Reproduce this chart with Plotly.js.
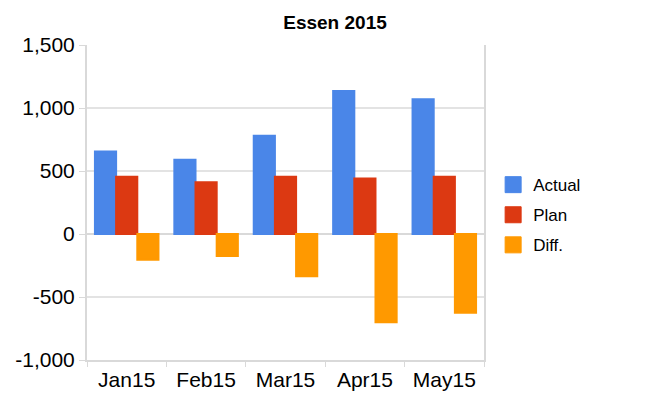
<!DOCTYPE html>
<html>
<head>
<meta charset="utf-8">
<script src="https://cdn.plot.ly/plotly-3.0.1.min.js"></script>
<style>html,body{margin:0;padding:0;background:#fff;}#chart{width:670px;height:400px;}</style>
</head>
<body>
<div id="chart"></div>
<script>
var categories = ["Jan15", "Feb15", "Mar15", "Apr15", "May15"];
var actual = [655, 590, 780, 1135, 1070];
var plan = [455, 410, 455, 440, 455];
var diff = [-205, -175, -335, -700, -625];
var seriesNames = ["Actual", "Plan", "Diff."];
var yTickVals = [-1000, -500, 0, 500, 1000, 1500];
var yTickText = ["-1,000", "-500", "0", "500", "1,000", "1,500"];

var colors = ["#4a86e8", "#dc3912", "#ff9900"];
var seriesVals = [actual, plan, diff];

var data = [];
seriesNames.forEach(function (name, i) {
  data.push({
    type: "bar", name: name, x: categories, y: seriesVals[i], legendgroup: name,
    showlegend: false,
    marker: {color: colors[i], line: {width: 2, color: colors[i]}},
    hoverinfo: "skip"
  });
});
// legend swatches (larger squares, as in the reference)
seriesNames.forEach(function (name, i) {
  data.push({
    type: "scatter", mode: "markers", name: name, legendgroup: name,
    x: [null], y: [null], showlegend: true,
    marker: {symbol: "square", size: 16, color: colors[i], line: {width: 1, color: colors[i]}},
    hoverinfo: "skip"
  });
});

var layout = {
  width: 670, height: 400,
  margin: {l: 87, r: 186, t: 45, b: 40},
  paper_bgcolor: "#fff", plot_bgcolor: "#fff",
  font: {family: "Liberation Sans, Arial, sans-serif", color: "#000"},
  title: {text: "<b>Essen 2015</b>", font: {size: 19, color: "#000"}, xref: "container", x: 0.5, xanchor: "center", yref: "container", y: 0.945, yanchor: "middle"},
  barmode: "group", bargap: 0.2, bargroupgap: 0,
  xaxis: {
    type: "category", tickson: "boundaries", ticks: "outside", ticklen: 5, tickcolor: "#d9d9d9", tickwidth: 1,
    showline: true, linecolor: "#d9d9d9", linewidth: 2, showgrid: false,
    tickfont: {size: 21, color: "#000"}, fixedrange: true
  },
  yaxis: {
    range: [-1000, 1500], tickvals: yTickVals, ticktext: yTickText,
    ticks: "outside", ticklen: 6, tickcolor: "#d9d9d9", tickwidth: 1,
    showline: true, linecolor: "#d9d9d9", linewidth: 2, mirror: true,
    showgrid: true, gridcolor: "#e3e3e3", gridwidth: 2,
    zeroline: true, zerolinecolor: "#d9d9d9", zerolinewidth: 2,
    tickfont: {size: 21, color: "#000"}, fixedrange: true
  },
  legend: {x: 1.023, xanchor: "left", y: 0.46, yanchor: "middle", bgcolor: "rgba(0,0,0,0)", font: {size: 17, color: "#000"}, tracegroupgap: 5, itemwidth: 30},
  showlegend: true
};

Plotly.newPlot("chart", data, layout, {displayModeBar: false, staticPlot: true});
</script>
</body>
</html>
